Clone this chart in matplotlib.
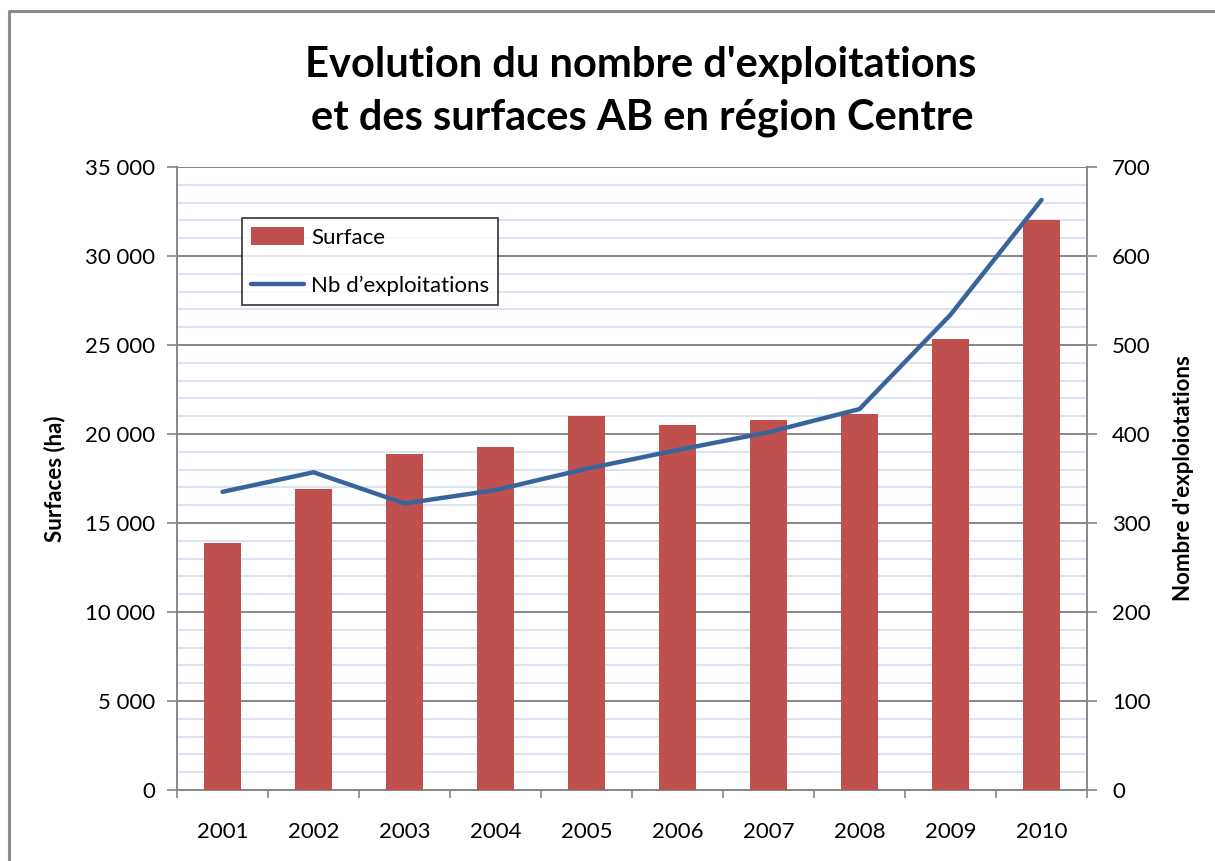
import matplotlib

matplotlib.use("Agg")
import matplotlib.pyplot as plt
from matplotlib.lines import Line2D
from matplotlib.ticker import FixedLocator, FuncFormatter, MultipleLocator

# ── data ────────────────────────────────────────────────────────────────────
YEARS = ["2001", "2002", "2003", "2004", "2005",
         "2006", "2007", "2008", "2009", "2010"]
SURFACE = [13900, 16900, 18850, 19250, 21000, 20500, 20800, 21100, 25350, 32000]
NB_EXPL = [335, 357, 322, 337, 361, 382, 402, 428, 534, 663]

C_BAR = "#C0504D"
C_LINE = "#38649A"
C_MAJOR = "#868686"
C_MINOR = "#D6E0F2"
FONT = "Lato"

plt.rcParams.update({"font.family": [FONT, "DejaVu Sans"]})

fig = plt.figure(figsize=(12.15, 8.61), dpi=100)
# chart-area border: only left and top edges are inside the picture
bx, by = 9 / 1215, 1 - 11 / 861
fig.lines.append(Line2D([bx, bx, 1.05], [-0.05, by, by], transform=fig.transFigure,
                        color="#8c8c8c", linewidth=2.2))

ax = fig.add_axes([177 / 1215, 1 - 790 / 861, 910 / 1215, 623 / 861])
x = list(range(len(YEARS)))
ax.bar(x, SURFACE, width=0.41, color=C_BAR, zorder=3, label="Surface")
ax.set_xlim(-0.5, len(YEARS) - 0.5)
ax.set_ylim(0, 35000)
ax.yaxis.set_major_locator(MultipleLocator(5000))
ax.yaxis.set_minor_locator(MultipleLocator(1000))
ax.yaxis.set_major_formatter(
    FuncFormatter(lambda v, p: f"{int(v):,}".replace(",", " ")))
ax.grid(axis="y", which="minor", color=C_MINOR, linewidth=1.3, zorder=0)
ax.grid(axis="y", which="major", color=C_MAJOR, linewidth=1.4, zorder=1)
ax.set_axisbelow(True)

ax.set_xticks(x)
ax.set_xticklabels(YEARS)
ax.xaxis.set_minor_locator(FixedLocator([i - 0.5 for i in range(len(YEARS) + 1)]))
ax.tick_params(axis="x", which="major", length=0, pad=23, labelsize=16)
ax.tick_params(axis="x", which="minor", length=6, width=1.2, color=C_MAJOR)
ax.tick_params(axis="y", which="major", length=7, width=1.2, color=C_MAJOR,
               pad=9, labelsize=16)
ax.tick_params(axis="y", which="minor", length=0)

for s in ("top", "right"):
    ax.spines[s].set_visible(False)
for s in ("left", "bottom"):
    ax.spines[s].set_color(C_MAJOR)
    ax.spines[s].set_linewidth(1.4)

ax.set_ylabel("Surfaces (ha)", fontsize=16, fontweight="bold", labelpad=14)

ax2 = ax.twinx()
ax2.plot(x, NB_EXPL, color=C_LINE, linewidth=3.2, solid_capstyle="round",
         zorder=4, label="Nb d\u2019exploitations")
ax2.set_ylim(0, 700)
ax2.yaxis.set_major_locator(MultipleLocator(100))
ax2.tick_params(axis="y", length=7, width=1.2, color=C_MAJOR, pad=11,
                labelsize=16)
for s in ("top", "left", "bottom"):
    ax2.spines[s].set_visible(False)
ax2.spines["right"].set_color(C_MAJOR)
ax2.spines["right"].set_linewidth(1.4)
ax2.set_ylabel("Nombre d'exploiotations", fontsize=16, fontweight="bold",
               labelpad=16)

h1, l1 = ax.get_legend_handles_labels()
h2, l2 = ax2.get_legend_handles_labels()
leg = ax2.legend(h1 + h2, l1 + l2, loc="upper left",
                 bbox_to_anchor=(65 / 910, 572 / 623), borderaxespad=0,
                 fontsize=16, frameon=True, fancybox=False, edgecolor="black",
                 handlelength=2.4, handleheight=0.9, labelspacing=1.25,
                 borderpad=0.4, handletextpad=0.3)
leg.get_frame().set_linewidth(1.2)

fig.text(0.527, 1 - 65 / 861, "Evolution du nombre d'exploitations",
         ha="center", va="center", fontsize=30, fontweight="bold")
fig.text(0.529, 1 - 118 / 861, "et des surfaces AB en région Centre",
         ha="center", va="center", fontsize=30, fontweight="bold")

fig.savefig("out.png", dpi=100)
